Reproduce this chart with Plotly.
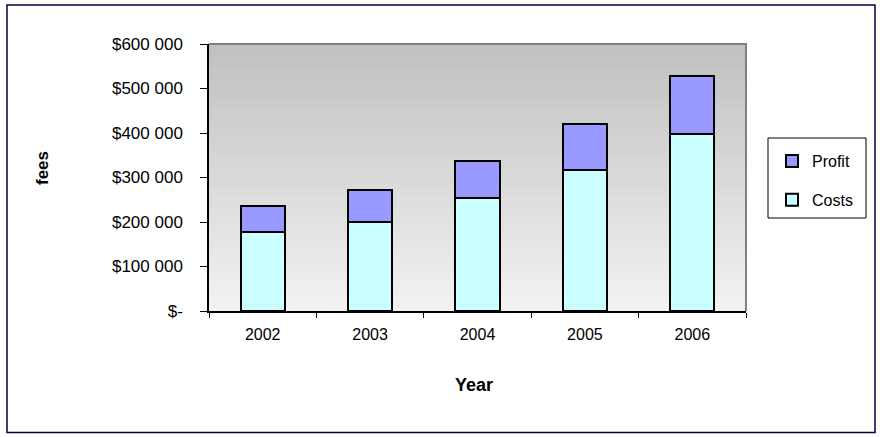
import plotly.graph_objects as go

years = ["2002", "2003", "2004", "2005", "2006"]
costs = [177000, 201000, 253000, 316000, 397000]
profit = [58000, 70000, 85000, 105000, 132000]
y_ticks = [0, 100000, 200000, 300000, 400000, 500000, 600000]


def money(v):
    return "$-" if v == 0 else "$" + f"{v:,}".replace(",", " ")


W, H = 880, 437
L, R, T, B = 209, 746, 44, 311  # plot area in pixels


def px_x(p):
    return (p - L) / (R - L)


def px_y(p):
    return (B - p) / (B - T)


FONT = "Arial, Liberation Sans, sans-serif"

fig = go.Figure()
fig.add_trace(go.Bar(
    x=years, y=costs, name="Costs", width=0.41,
    marker=dict(color="#CCFFFF", line=dict(color="black", width=2)),
    legendgroup="c", legendrank=2,
))
fig.add_trace(go.Bar(
    x=years, y=profit, name="Profit", width=0.41,
    marker=dict(color="#9999FF", line=dict(color="black", width=2)),
    legendgroup="p", legendrank=1,
))

shapes = []
# plot-area gradient (grey at top to near white at bottom)
N = 60
top_c = (192, 192, 192)
bot_c = (242, 242, 242)
for i in range(N):
    f = i / (N - 1)
    c = tuple(round(top_c[k] + (bot_c[k] - top_c[k]) * f) for k in range(3))
    shapes.append(dict(type="rect", xref="paper", yref="paper",
                       x0=0, x1=1, y0=1 - (i + 1) / N, y1=1 - i / N + 0.002,
                       fillcolor="rgb(%d,%d,%d)" % c, line=dict(width=0),
                       layer="below"))
# plot-area border (grey top/right)
shapes.append(dict(type="path", xref="paper", yref="paper",
                   path="M 0 1 L 1 1 L 1 0", line=dict(color="#808080", width=2),
                   layer="below"))
# legend box
shapes.append(dict(type="rect", xref="paper", yref="paper",
                   x0=px_x(768), x1=px_x(866), y0=px_y(218), y1=px_y(138),
                   line=dict(color="black", width=1), fillcolor="white",
                   layer="below"))
# outer border
shapes.append(dict(type="rect", xref="paper", yref="paper",
                   x0=px_x(7), x1=px_x(875), y0=px_y(432.5), y1=px_y(5),
                   line=dict(color="#000040", width=1.5), layer="below"))

fig.update_layout(
    width=W, height=H,
    margin=dict(l=L, r=W - R, t=T, b=H - B),
    paper_bgcolor="white", plot_bgcolor="rgba(0,0,0,0)",
    barmode="stack", showlegend=True,
    font=dict(family=FONT, color="black", size=16),
    shapes=shapes,
    legend=dict(x=px_x(772), y=px_y(144), xanchor="left", yanchor="top",
                bgcolor="rgba(0,0,0,0)", borderwidth=0,
                traceorder="grouped", tracegroupgap=15,
                font=dict(size=16, family=FONT), itemwidth=30),
    xaxis=dict(type="category", showgrid=False, showline=True, linecolor="black",
               linewidth=1.5, ticks="outside", tickson="boundaries", ticklen=5,
               tickcolor="black", tickfont=dict(size=16), ticklabelstandoff=8,
               zeroline=False),
    yaxis=dict(range=[0, 600000], tickvals=y_ticks,
               ticktext=[money(v) for v in y_ticks], showgrid=False,
               showline=True, linecolor="black", linewidth=1.5, ticks="outside",
               ticklen=7, tickcolor="black", tickfont=dict(size=17),
               ticklabelstandoff=14, zeroline=False),
    annotations=[
        dict(text="<b>fees</b>", xref="paper", yref="paper", x=px_x(42), y=px_y(168),
             xanchor="center", yanchor="middle", textangle=-90, showarrow=False,
             font=dict(size=17, family=FONT)),
        dict(text="<b>Year</b>", xref="paper", yref="paper", x=px_x(474), y=px_y(385),
             xanchor="center", yanchor="middle", showarrow=False,
             font=dict(size=18, family=FONT)),
    ],
)

fig.write_html("out.html")
